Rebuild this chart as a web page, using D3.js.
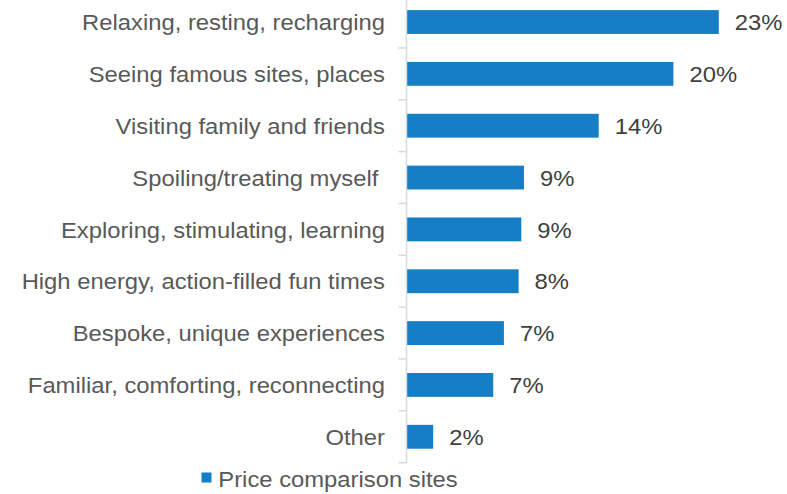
<!DOCTYPE html>
<html>
<head>
<meta charset="utf-8">
<script src="https://cdn.jsdelivr.net/npm/d3@7"></script>
<style>
  body { margin: 0; background: #fff; }
  svg text { font-family: "Liberation Sans", Arial, sans-serif; font-size: 22.5px; white-space: pre; }
</style>
</head>
<body>
<div id="chart"></div>
<script>
// Data
var categories = [
    "Relaxing, resting, recharging",
    "Seeing famous sites, places",
    "Visiting family and friends",
    "Spoiling/treating myself ",
    "Exploring, stimulating, learning",
    "High energy, action-filled fun times",
    "Bespoke, unique experiences",
    "Familiar, comforting, reconnecting",
    "Other"
];
var values = [23.4, 20.0, 14.4, 8.8, 8.6, 8.4, 7.3, 6.5, 2.0];
var valueLabels = ["23%", "20%", "14%", "9%", "9%", "8%", "7%", "7%", "2%"];
var seriesName = "Price comparison sites";

var width = 787, height = 494;
var barColor = "#157ec4";
var axisX = 406.5;
var stretch = 1.058; // text in the original is slightly wide

var svg = d3.select("#chart").append("svg")
    .attr("width", width)
    .attr("height", height);

// Scales
var x = d3.scaleLinear()
    .domain([0, 23.4])
    .range([axisX, axisX + 312.3]);

var y = d3.scaleBand()
    .domain(categories)
    .range([-3.9, 462.7])
    .paddingInner(0.54)
    .paddingOuter(0.27);

// Bars
svg.selectAll("rect.bar")
    .data(values)
    .enter().append("rect")
    .attr("class", "bar")
    .attr("x", x(0))
    .attr("y", function(d, i) { return y(categories[i]); })
    .attr("width", function(d) { return x(d) - x(0); })
    .attr("height", y.bandwidth())
    .attr("fill", barColor);

// Value labels
svg.selectAll("g.val")
    .data(values)
    .enter().append("g")
    .attr("class", "val")
    .attr("transform", function(d, i) {
        return "translate(" + (x(d) + 16) + "," + (y(categories[i]) + y.bandwidth() / 2) + ") scale(" + stretch + ",1)";
    })
    .append("text")
    .attr("dy", "0.36em")
    .attr("fill", "#404040")
    .text(function(d, i) { return valueLabels[i]; });

// Category axis (line + ticks between bands)
var step = y.step();
var boundaries = categories.map(function(c) { return y(c) - step * y.paddingInner() / 2; });
boundaries.push(y.range()[1]);

svg.append("line")
    .attr("x1", axisX).attr("x2", axisX)
    .attr("y1", y.range()[0]).attr("y2", y.range()[1])
    .attr("stroke", "#d9d9d9")
    .attr("stroke-width", 1.5);

svg.selectAll("line.tick")
    .data(boundaries)
    .enter().append("line")
    .attr("class", "tick")
    .attr("x1", axisX - 8).attr("x2", axisX)
    .attr("y1", function(d) { return d; })
    .attr("y2", function(d) { return d; })
    .attr("stroke", "#d9d9d9")
    .attr("stroke-width", 1.5);

svg.selectAll("g.cat")
    .data(categories)
    .enter().append("g")
    .attr("class", "cat")
    .attr("transform", function(d) {
        return "translate(385," + (y(d) + y.bandwidth() / 2) + ") scale(" + stretch + ",1)";
    })
    .append("text")
    .attr("dy", "0.36em")
    .attr("text-anchor", "end")
    .attr("fill", "#595959")
    .text(function(d) { return d; });

// Legend
var legend = svg.append("g").attr("transform", "translate(201.5,472.5)");
legend.append("rect")
    .attr("width", 10)
    .attr("height", 10)
    .attr("fill", barColor);
legend.append("text")
    .attr("transform", "translate(16.8,14.2) scale(" + stretch + ",1)")
    .attr("fill", "#595959")
    .text(seriesName);
</script>
</body>
</html>
